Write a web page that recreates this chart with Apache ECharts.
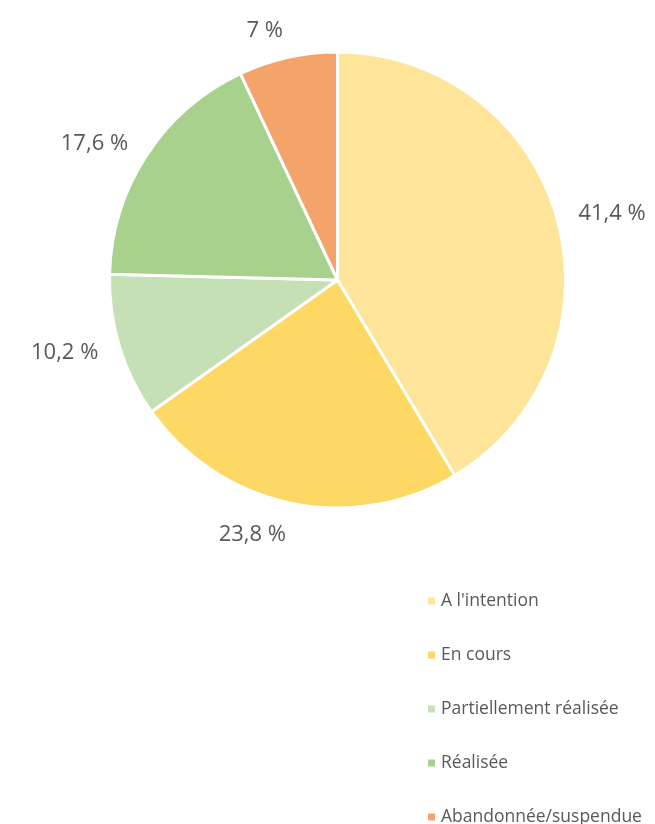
<!DOCTYPE html>
<html>
<head>
<meta charset="utf-8">
<style>
html,body{margin:0;padding:0;background:#fff;}
#chart{width:655px;height:824px;}
</style>
<script src="https://cdn.jsdelivr.net/npm/echarts@6/dist/echarts.min.js"></script>
</head>
<body>
<div id="chart"></div>
<script>
const categories = ["A l'intention", "En cours", "Partiellement réalisée", "Réalisée", "Abandonnée/suspendue"];
const values = [41.4, 23.8, 10.2, 17.6, 7];
const colors = ["#FEE599", "#FDD865", "#C5E0B4", "#A9D18E", "#F4A46A"];

const chart = echarts.init(document.getElementById('chart'));
chart.setOption({
  animation: false,
  backgroundColor: '#ffffff',
  legend: {
    orient: 'vertical',
    left: 426,
    top: 591,
    height: 240,
    padding: 0,
    itemWidth: 9,
    itemHeight: 9,
    itemGap: 34,
    icon: 'rect',
    textStyle: { color: '#595959', fontSize: 17.5, fontFamily: 'Open Sans', lineHeight: 20 },
    data: categories
  },
  series: [{
    type: 'pie',
    center: [337.5, 280],
    radius: 228,
    startAngle: 90,
    clockwise: true,
    avoidLabelOverlap: false,
    itemStyle: { borderColor: '#ffffff', borderWidth: 3 },
    label: {
      show: true,
      position: 'outside',
      distanceToLabelLine: 0,
      color: '#595959',
      fontSize: 22,
      fontFamily: 'Open Sans',
      formatter: p => String(p.value).replace('.', ',') + ' %'
    },
    labelLayout: p => (p.dataIndex === 1 ? { dy: 10 } : p.dataIndex === 4 ? { dy: -5 } : {}),
    labelLine: { show: false, length: 22, length2: 0 },
    data: categories.map((c, i) => ({ name: c, value: values[i], itemStyle: { color: colors[i] } }))
  }]
});
</script>
</body>
</html>
